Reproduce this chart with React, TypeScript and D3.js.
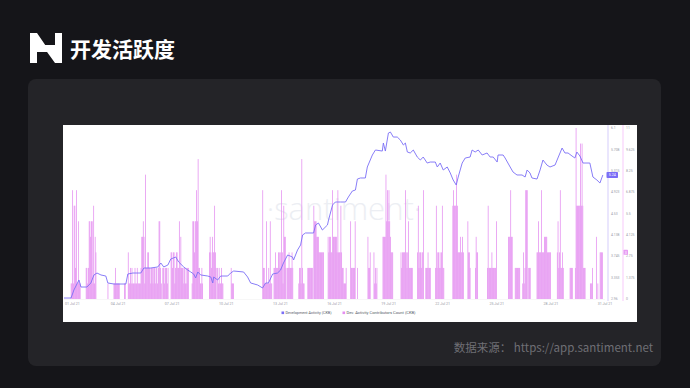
import React from 'react';
import * as d3 from 'd3';

const W = 690;
const H = 388;

// x axis tick labels (every 3 days)
const xTickLabels = ['01 Jul 21', '04 Jul 21', '07 Jul 21', '10 Jul 21', '13 Jul 21', '16 Jul 21', '19 Jul 21', '22 Jul 21', '25 Jul 21', '28 Jul 21', '31 Jul 21'];

// Development Activity (CKB): day offset from 1 Jul 2021, value
const devDays = [0, 0.39, 0.55, 0.83, 0.94, 1.27, 1.49, 1.66, 1.83, 2.05, 2.32, 2.43, 2.77, 3.43, 3.54, 3.82, 4.26, 4.43, 4.81, 5.2, 5.37, 5.53, 5.76, 5.92, 6.2, 6.36, 6.64, 6.86, 7.03, 7.19, 7.3, 7.42, 7.58, 7.97, 8.14, 8.25, 8.3, 8.52, 8.69, 9.08, 9.24, 9.41, 9.96, 10.18, 10.35, 10.74, 11.01, 11.18, 11.34, 11.57, 11.84, 12.01, 12.17, 12.4, 12.67, 12.73, 12.95, 13.12, 13.23, 13.39, 13.84, 13.95, 14.11, 14.33, 14.61, 14.67, 14.89, 15.05, 15.33, 15.61, 15.77, 15.99, 16.16, 16.27, 16.44, 16.71, 16.82, 17.1, 17.27, 17.65, 17.71, 17.82, 17.99, 18.1, 18.26, 18.48, 18.65, 18.82, 18.93, 19.04, 19.2, 19.37, 19.59, 19.76, 19.92, 20.14, 20.31, 20.59, 20.7, 20.86, 21.03, 21.25, 21.42, 21.58, 21.75, 21.86, 22.08, 22.25, 22.52, 22.63, 22.8, 22.97, 23.19, 23.46, 23.63, 23.8, 24.02, 24.07, 24.35, 24.46, 24.74, 24.9, 25.12, 25.4, 25.57, 25.68, 25.84, 25.95, 26.23, 26.4, 26.56, 26.78, 26.95, 27.23, 27.39, 27.62, 27.78, 27.95, 28.17, 28.33, 28.44, 28.61, 28.78, 29.0, 29.16, 29.33, 29.55, 29.72, 29.88];
const devValues = [2.978, 2.978, 3.125, 3.309, 3.18, 3.18, 3.254, 3.401, 3.437, 3.401, 3.382, 3.254, 3.235, 3.235, 3.419, 3.437, 3.437, 3.529, 3.529, 3.548, 3.621, 3.548, 3.584, 3.694, 3.731, 3.639, 3.548, 3.492, 3.456, 3.419, 3.346, 3.456, 3.401, 3.382, 3.364, 3.254, 3.364, 3.309, 3.382, 3.382, 3.437, 3.474, 3.456, 3.364, 3.254, 3.217, 3.162, 3.254, 3.254, 3.419, 3.437, 3.492, 3.621, 3.768, 3.731, 3.676, 3.86, 3.952, 4.135, 4.172, 4.172, 4.319, 4.355, 4.227, 4.319, 4.41, 4.686, 4.741, 4.741, 4.741, 4.833, 4.943, 4.961, 5.163, 5.182, 5.182, 5.384, 5.604, 5.696, 5.677, 5.824, 5.677, 6.008, 6.026, 5.934, 5.934, 5.879, 5.788, 5.824, 5.659, 5.641, 5.696, 5.567, 5.512, 5.567, 5.457, 5.475, 5.475, 5.384, 5.457, 5.329, 5.384, 5.274, 5.145, 5.053, 5.2, 5.457, 5.549, 5.567, 5.696, 5.659, 5.696, 5.604, 5.641, 5.567, 5.567, 5.475, 5.604, 5.604, 5.549, 5.384, 5.292, 5.237, 5.237, 5.2, 5.329, 5.274, 5.182, 5.163, 5.329, 5.512, 5.42, 5.384, 5.42, 5.549, 5.732, 5.641, 5.641, 5.586, 5.549, 5.659, 5.586, 5.457, 5.457, 5.457, 5.2, 5.145, 5.09, 5.237];

// Dev. Activity Contributors Count (CKB): hourly bursts (start hour from 1 Jul 2021 00:00, consecutive hourly counts)
const contribStartHours = [9, 29, 58, 66, 80, 85, 109, 126, 131, 142, 160, 170, 180, 193, 204, 222, 264, 279, 285, 291, 297, 312, 324, 332, 351, 371, 381, 390, 404, 412, 424, 448, 451, 470, 481, 494, 517, 537, 547, 563, 591, 600, 610, 618, 629, 656, 673, 680, 700, 708, 710, 713];
const contribCounts = [
  [1, 1, 7, 1, 6, 6, 2, 7, 1, 1, 5, 1, 1],
  [2, 2, 1, 2, 5, 5, 4, 5, 5, 1, 6, 1, 4, 3],
  [1],
  [1, 1, 2, 1, 1, 1, 1, 1],
  [1, 1],
  [3, 1, 1, 2, 1, 2, 1, 1, 1, 2, 1, 1, 2, 1, 1, 1, 1, 2, 4, 4, 5, 4, 1, 8],
  [2, 2, 3, 3, 2, 2, 1, 2, 2, 1, 2, 2, 1, 2, 2, 1, 2],
  [5, 5, 2, 1],
  [2, 2, 1, 2, 2, 2, 1, 2],
  [3, 3, 2, 3, 3, 1, 2, 3, 3, 2, 2, 5, 2, 4, 2, 2, 2, 1],
  [2, 1, 2, 1, 2, 2],
  [1, 5, 5, 3, 5, 5, 7, 5, 9, 2],
  [2, 1, 1, 2, 1],
  [3, 4, 3, 2, 4, 3, 3, 6, 3, 2],
  [2, 1, 2, 1, 1, 2, 1, 1],
  [2, 1, 1, 1],
  [7, 2, 2, 1, 1, 5, 1, 1, 2, 1, 5, 1, 1],
  [2, 2, 3, 2, 2, 2],
  [3, 3, 2, 3, 7, 3],
  [1, 6, 4, 4, 2],
  [2, 2, 3, 2, 2, 2, 3, 2],
  [1, 2, 2, 1, 9, 2, 1, 1],
  [2, 2, 2, 2, 2, 2, 2],
  [6, 5, 5, 5, 4, 4, 4, 3, 3, 3, 3, 3, 3, 3],
  [4, 3, 4, 4, 3, 3, 7, 4, 4, 4, 4, 4, 3, 7, 3, 3, 3, 6, 3, 2],
  [2, 1, 1, 1, 2],
  [5, 2, 2, 2, 2, 2, 5],
  [2],
  [4, 2, 2, 3],
  [3, 1, 2, 1, 2],
  [4, 4, 4, 4, 8, 5, 7, 5, 7, 5, 4, 3, 3, 3],
  [3, 2, 3],
  [3, 3, 3, 7, 3, 2, 3, 5, 2, 2, 2, 2, 2],
  [3, 6, 2, 3, 3, 2, 3, 3, 7],
  [2, 2, 2, 3, 2, 2, 2],
  [2, 6, 2, 3, 3, 2, 3, 2, 3, 6, 2, 2],
  [6, 7, 6, 6, 6, 8, 6, 3, 3, 3, 4, 3, 3, 4, 3],
  [5, 3, 3, 2],
  [2, 4, 3, 3],
  [2, 6, 2, 2, 2, 2, 3, 2, 2, 2, 2, 2, 5],
  [4, 4, 4, 7, 4, 4],
  [2, 2, 2, 2, 2, 2, 2],
  [1, 3, 1, 2, 7, 7, 7],
  [2, 2, 2],
  [3, 3, 5, 3, 3, 3, 7, 3, 3, 3, 4, 4, 4, 4, 3, 3, 3, 3, 3],
  [3, 5, 2, 3, 7, 2, 2, 3, 2],
  [2, 2, 2, 2],
  [2, 11, 6, 6, 6, 6, 6, 10, 6, 10, 6, 2, 2, 2],
  [1, 1, 1, 2],
  [4],
  [1],
  [3, 3, 3, 3],
];

const devAxisTicks = [2.96, 3.353, 3.745, 4.138, 4.53, 4.923, 5.315, 5.708, 6.1];
const contribAxisTicks = [0, 1.375, 2.75, 4.125, 5.5, 6.875, 8.25, 9.625, 11];

const legendLabels = ['Development Activity (CKB)', 'Dev. Activity Contributors Count (CKB)'];

const LINE_COLOR = '#7b6ef6';
const BAR_COLOR = '#e48ff0';

export default function App() {
  const start = new Date(Date.UTC(2021, 6, 1));
  const end = new Date(Date.UTC(2021, 6, 31));
  const plotL = 64, plotR = 605, plotT = 128, plotB = 299;
  const x = d3.scaleUtc().domain([start, end]).range([plotL, plotR]);
  const dayToDate = (d: number) => new Date(start.getTime() + d * 86400000);
  const yDev = d3.scaleLinear().domain([devAxisTicks[0], devAxisTicks[devAxisTicks.length - 1]]).range([plotB, plotT]);
  const yCnt = d3.scaleLinear().domain([0, 11]).range([plotB, plotT]);

  const bars: { h: number; v: number }[] = [];
  contribStartHours.forEach((s, i) => {
    contribCounts[i].forEach((v, j) => bars.push({ h: s + j, v }));
  });

  const linePts = devDays.map((d, i) => [d, devValues[i]] as [number, number]);
  const lineGen = d3.line<[number, number]>()
    .x((p) => x(dayToDate(p[0])))
    .y((p) => yDev(p[1]));

  const ticks = d3.utcDay.range(start, new Date(Date.UTC(2021, 6, 31, 1)), 1).filter((d) => (d.getUTCDate() - 1) % 3 === 0);

  const lastDev = devValues[devValues.length - 1];
  const lastBar = bars[bars.length - 1];

  const axisFont = 'Roboto, "DejaVu Sans", sans-serif';

  return (
    <svg width={W} height={H} style={{ position: 'absolute', left: 0, top: 0, display: 'block' }}>
      <rect x={0} y={0} width={W} height={H} fill="#151519" />
      {/* logo */}
      <g fill="#ffffff">
        <polygon points="30,33 37,33 50,52 37,52 37,63 30,63" />
        <polygon points="55,33 62,33 62,63 55,63 42,45 55,45" />
      </g>
      <text x={70} y={57} fill="#ffffff" fontSize={21} fontWeight={700} fontFamily='"Noto Sans CJK SC", sans-serif'>开发活跃度</text>

      <rect x={28} y={79} width={633} height={287} rx={8} fill="#242428" />
      <rect x={63} y={125} width={574} height={197} fill="#ffffff" />

      {/* watermark */}
      <text x={344} y={220} textAnchor="middle" fill="#eceef3" fontSize={31} fontFamily='"Open Sans", sans-serif' fontWeight={300}>·santiment·</text>

      {/* bars */}
      <g fill={BAR_COLOR}>
        {bars.map((b, i) => {
          const t0 = new Date(start.getTime() + b.h * 3600000);
          const t1 = new Date(start.getTime() + (b.h + 1) * 3600000);
          const x0 = x(t0);
          return <rect key={i} x={x0} y={yCnt(b.v)} width={x(t1) - x0} height={plotB - yCnt(b.v)} />;
        })}
      </g>

      {/* bottom axis line */}
      <line x1={plotL} x2={plotR} y1={plotB + 0.5} y2={plotB + 0.5} stroke="#eeeeee" strokeWidth={0.5} />

      {/* dev activity line */}
      <path d={lineGen(linePts) || ''} fill="none" stroke={LINE_COLOR} strokeWidth={0.9} strokeLinejoin="round" />

      {/* x tick labels */}
      <g fontFamily={axisFont} fontSize={3.6} fill="#9a9aa6">
        {ticks.map((t, i) => (
          <text key={i} x={i === 0 ? plotL + 1 : x(t)} y={305} textAnchor={i === 0 ? 'start' : 'middle'}>
            {xTickLabels[i]}
          </text>
        ))}
      </g>

      {/* right axis 1 (dev activity) */}
      <line x1={608} x2={608} y1={plotT - 3} y2={plotB + 2} stroke="#dcd6fc" strokeWidth={1.2} />
      <g fontFamily={axisFont} fontSize={3.4} fill="#9a9aa6">
        {devAxisTicks.map((t, i) => (
          <text key={i} x={611} y={yDev(t) + 1.2}>{String(+t.toFixed(3))}</text>
        ))}
      </g>
      <rect x={606.5} y={yDev(lastDev) - 3} width={11.5} height={6} rx={0.8} fill={LINE_COLOR} />
      <text x={612.2} y={yDev(lastDev) + 1.3} textAnchor="middle" fontFamily={axisFont} fontSize={3.6} fill="#ffffff">{lastDev.toFixed(2)}</text>

      {/* right axis 2 (contributors) */}
      <line x1={623} x2={623} y1={plotT - 3} y2={plotB + 2} stroke="#f8d2fb" strokeWidth={1.2} />
      <g fontFamily={axisFont} fontSize={3.4} fill="#9a9aa6">
        {contribAxisTicks.map((t, i) => (
          <text key={i} x={626} y={yCnt(t) + 1.2}>{String(+t.toFixed(3))}</text>
        ))}
      </g>
      <rect x={623.5} y={yCnt(lastBar.v) - 2.5} width={4.5} height={5} rx={0.6} fill="#e79cf3" />
      <text x={625.8} y={yCnt(lastBar.v) + 1.3} textAnchor="middle" fontFamily={axisFont} fontSize={3.6} fill="#ffffff">{lastBar.v}</text>

      {/* legend */}
      <g fontFamily={axisFont} fontSize={3.8} fill="#555a66">
        <rect x={281.5} y={311.5} width={2.6} height={2.6} fill={LINE_COLOR} />
        <text x={285.5} y={314.2} textLength={46} lengthAdjust="spacingAndGlyphs">{legendLabels[0]}</text>
        <rect x={342.5} y={311.5} width={2.6} height={2.6} fill={BAR_COLOR} />
        <text x={346.5} y={314.2} textLength={69} lengthAdjust="spacingAndGlyphs">{legendLabels[1]}</text>
      </g>

      {/* footer */}
      <text x={653} y={352} textAnchor="end" fill="#6f6f75" fontSize={11.5} fontFamily='"Noto Sans CJK SC", sans-serif'>数据来源： https://app.santiment.net</text>
    </svg>
  );
}
